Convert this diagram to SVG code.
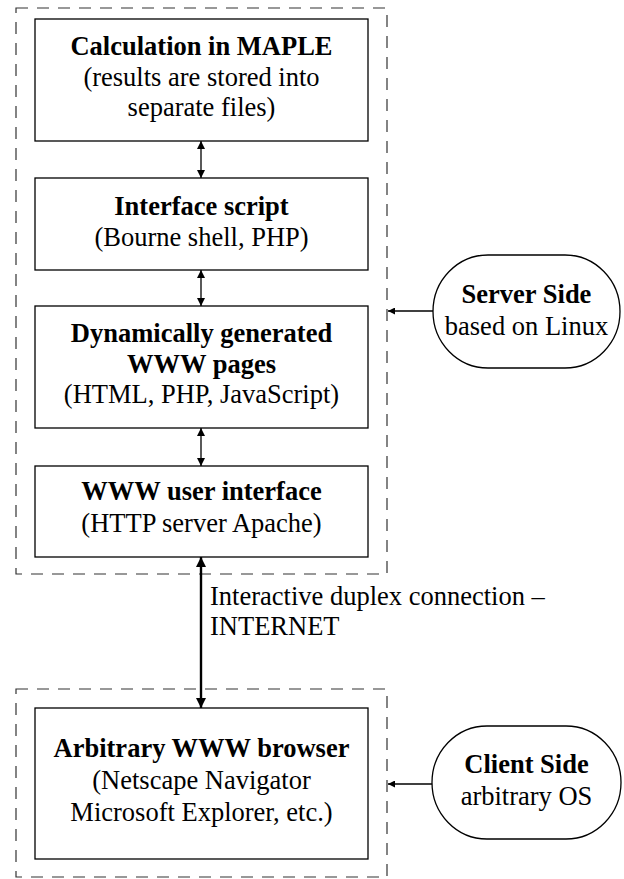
<svg xmlns="http://www.w3.org/2000/svg" width="624" height="879" viewBox="0 0 624 879">
<style>
  .bg { fill: #ffffff; }
  .box { fill: #ffffff; stroke: #000000; stroke-width: 1.3; }
  .group { fill: none; stroke: #333333; stroke-width: 1.2; stroke-dasharray: 12 9; }
  .side { fill: #ffffff; stroke: #000000; stroke-width: 1.3; }
  .conn { fill: none; stroke: #000000; stroke-width: 1.3; }
  .thick { fill: none; stroke: #000000; stroke-width: 2.4; }
  text { font-size: 26.5px; fill: #000000; text-anchor: middle; }
  .b { font-weight: bold; }
  .lab { text-anchor: start; }
</style>
<defs>
  <marker id="ah" viewBox="0 0 10 10" refX="10" refY="5" markerWidth="8" markerHeight="8" markerUnits="userSpaceOnUse" orient="auto-start-reverse">
    <path d="M0,0 L10,5 L0,10 z" fill="#000000"/>
  </marker>
  <marker id="ahs" viewBox="0 0 10 10" refX="10" refY="5" markerWidth="8" markerHeight="7" markerUnits="userSpaceOnUse" orient="auto">
    <path d="M0,0 L10,5 L0,10 z" fill="#000000"/>
  </marker>
  <marker id="ahb" viewBox="0 0 10 10" refX="10" refY="5" markerWidth="11" markerHeight="10" markerUnits="userSpaceOnUse" orient="auto-start-reverse">
    <path d="M0,0 L10,5 L0,10 z" fill="#000000"/>
  </marker>
</defs>
<rect class="bg" x="0" y="0" width="624" height="879"/>
<g font-family="'Liberation Serif', Tinos, 'Times New Roman', Times, serif">
<g id="server-group">
  <rect class="group" x="16" y="8" width="371" height="566"/>
</g>
<g id="client-group">
  <rect class="group" x="16" y="689" width="371" height="188"/>
</g>

<g id="connectors">
  <line class="conn" x1="201" y1="141" x2="201" y2="178" marker-start="url(#ah)" marker-end="url(#ah)"/>
  <line class="conn" x1="201" y1="270" x2="201" y2="306" marker-start="url(#ah)" marker-end="url(#ah)"/>
  <line class="conn" x1="201" y1="428" x2="201" y2="466" marker-start="url(#ah)" marker-end="url(#ah)"/>
  <line class="thick" x1="201" y1="557" x2="201" y2="708" marker-start="url(#ahb)" marker-end="url(#ahb)"/>
  <line class="conn" x1="433" y1="311" x2="388" y2="311" marker-end="url(#ahs)"/>
  <line class="conn" x1="432" y1="784" x2="388" y2="784" marker-end="url(#ahs)"/>
  <text class="lab" x="210" y="605">Interactive duplex connection –</text>
  <text class="lab" x="210" y="635">INTERNET</text>
</g>

<g id="maple">
  <rect class="box" x="35" y="19" width="333" height="122"/>
  <text class="b" x="201.5" y="55">Calculation in MAPLE</text>
  <text x="201.5" y="86">(results are stored into</text>
  <text x="201.5" y="116">separate files)</text>
</g>

<g id="interface-script">
  <rect class="box" x="35" y="178" width="333" height="92"/>
  <text class="b" x="201.5" y="215">Interface script</text>
  <text x="201.5" y="246">(Bourne shell, PHP)</text>
</g>

<g id="www-pages">
  <rect class="box" x="35" y="306" width="333" height="122"/>
  <text class="b" x="201.5" y="342">Dynamically generated</text>
  <text class="b" x="201.5" y="373">WWW pages</text>
  <text x="201.5" y="403">(HTML, PHP, JavaScript)</text>
</g>

<g id="www-ui">
  <rect class="box" x="35" y="466" width="333" height="91"/>
  <text class="b" x="201.5" y="500">WWW user interface</text>
  <text x="201.5" y="532">(HTTP server Apache)</text>
</g>

<g id="browser">
  <rect class="box" x="35" y="708" width="333" height="151"/>
  <text class="b" x="201.5" y="757">Arbitrary WWW browser</text>
  <text x="201.5" y="789">(Netscape Navigator</text>
  <text x="201.5" y="821">Microsoft Explorer, etc.)</text>
</g>

<g id="server-side">
  <rect class="side" x="433" y="255" width="187" height="113" rx="55" ry="56.5"/>
  <text class="b" x="526.5" y="303">Server Side</text>
  <text x="526.5" y="335">based on Linux</text>
</g>

<g id="client-side">
  <rect class="side" x="432" y="726" width="189" height="113" rx="55" ry="56.5"/>
  <text class="b" x="526.5" y="773">Client Side</text>
  <text x="526.5" y="805">arbitrary OS</text>
</g>
</g>
</svg>
